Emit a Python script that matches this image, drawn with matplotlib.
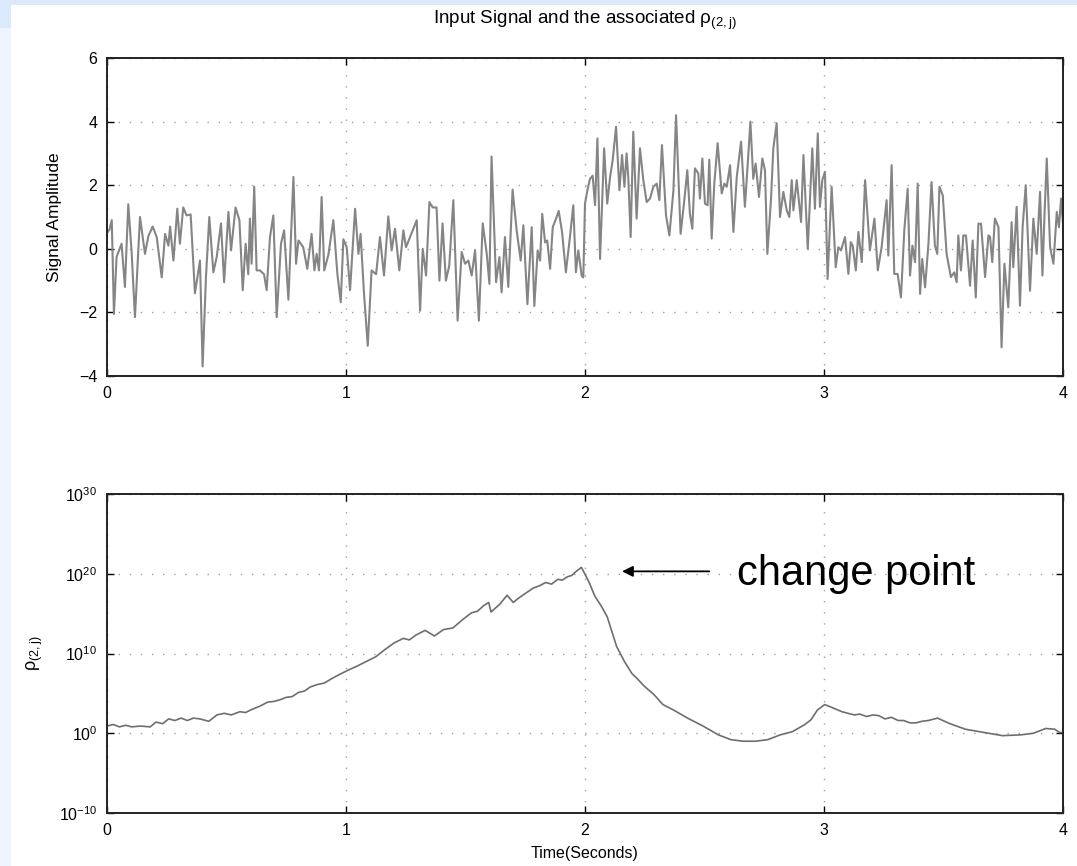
import matplotlib.pyplot as plt
import numpy as np
from matplotlib.patches import Rectangle
from matplotlib.ticker import FixedLocator, NullLocator

plt.rcParams['font.family'] = ['Liberation Sans', 'DejaVu Sans']
plt.rcParams['mathtext.fontset'] = 'custom'
plt.rcParams['mathtext.rm'] = 'Liberation Sans'
plt.rcParams['mathtext.it'] = 'Liberation Sans:italic'

# input signal, time in seconds and amplitude
sig_t = [0.000, 0.010, 0.020, 0.029, 0.040, 0.061, 0.075, 0.089, 0.103, 0.117,
         0.138, 0.159, 0.173, 0.191, 0.208, 0.229, 0.243, 0.257, 0.264, 0.278,
         0.294, 0.305, 0.319, 0.333, 0.350, 0.368, 0.389, 0.400, 0.414, 0.428,
         0.445, 0.459, 0.477, 0.490, 0.508, 0.519, 0.538, 0.554, 0.568, 0.580,
         0.591, 0.598, 0.605, 0.616, 0.626, 0.640, 0.657, 0.668, 0.682, 0.696,
         0.710, 0.728, 0.741, 0.759, 0.780, 0.791, 0.801, 0.821, 0.838, 0.856,
         0.868, 0.877, 0.887, 0.898, 0.909, 0.926, 0.947, 0.964, 0.978, 0.989,
         1.003, 1.017, 1.038, 1.052, 1.061, 1.075, 1.091, 1.107, 1.126, 1.142,
         1.159, 1.177, 1.191, 1.205, 1.223, 1.240, 1.251, 1.268, 1.296, 1.310,
         1.321, 1.335, 1.349, 1.363, 1.379, 1.391, 1.404, 1.418, 1.432, 1.449,
         1.467, 1.484, 1.498, 1.512, 1.526, 1.540, 1.556, 1.572, 1.589, 1.600,
         1.609, 1.628, 1.642, 1.651, 1.665, 1.679, 1.697, 1.714, 1.731, 1.742,
         1.759, 1.777, 1.788, 1.802, 1.812, 1.821, 1.833, 1.842, 1.854, 1.865,
         1.879, 1.890, 1.904, 1.920, 1.937, 1.951, 1.962, 1.972, 1.986, 1.993,
         2.000, 2.010, 2.021, 2.032, 2.042, 2.052, 2.063, 2.080, 2.093, 2.105,
         2.116, 2.130, 2.144, 2.155, 2.165, 2.174, 2.181, 2.191, 2.202, 2.216,
         2.230, 2.244, 2.258, 2.272, 2.286, 2.300, 2.311, 2.322, 2.339, 2.353,
         2.370, 2.381, 2.400, 2.414, 2.428, 2.439, 2.449, 2.460, 2.474, 2.481,
         2.491, 2.502, 2.513, 2.520, 2.530, 2.541, 2.555, 2.572, 2.583, 2.593,
         2.607, 2.621, 2.635, 2.653, 2.669, 2.681, 2.692, 2.704, 2.714, 2.728,
         2.742, 2.753, 2.763, 2.778, 2.788, 2.802, 2.816, 2.830, 2.844, 2.855,
         2.865, 2.872, 2.886, 2.904, 2.914, 2.932, 2.951, 2.962, 2.974, 2.983,
         2.993, 3.004, 3.015, 3.032, 3.049, 3.060, 3.071, 3.088, 3.102, 3.112,
         3.120, 3.133, 3.144, 3.158, 3.172, 3.192, 3.211, 3.225, 3.241, 3.262,
         3.269, 3.283, 3.294, 3.308, 3.322, 3.336, 3.350, 3.360, 3.370, 3.381,
         3.392, 3.402, 3.411, 3.423, 3.437, 3.450, 3.464, 3.474, 3.483, 3.497,
         3.513, 3.531, 3.545, 3.555, 3.562, 3.573, 3.583, 3.594, 3.611, 3.622,
         3.635, 3.646, 3.657, 3.674, 3.688, 3.695, 3.704, 3.715, 3.730, 3.743,
         3.755, 3.771, 3.785, 3.792, 3.806, 3.820, 3.831, 3.844, 3.862, 3.876,
         3.890, 3.904, 3.914, 3.922, 3.932, 3.946, 3.960, 3.974, 3.983, 3.992,
         4.000]
sig_v = [0.50, 0.60, 0.90, -2.05, -0.26, 0.16, -1.20, 1.40, -0.10, -2.15,
         1.00, -0.16, 0.40, 0.70, 0.37, -0.90, 0.47, 0.10, 0.70, -0.37,
         1.26, 0.16, 1.30, 1.05, 1.08, -1.40, -0.37, -3.70, -0.90, 1.00,
         -0.74, -0.26, 0.80, -1.05, 1.16, -0.05, 1.30, 0.90, -1.30, 0.16,
         -0.80, 0.95, -0.47, 1.95, -0.68, -0.68, -0.80, -1.30, 0.37, 1.05,
         -2.15, 0.16, 0.58, -1.60, 2.26, -0.47, 0.26, 0.05, -0.63, 0.47,
         -0.68, -0.16, -0.68, 1.63, -0.68, -0.20, 0.90, -0.80, -1.68, 0.30,
         0.05, -1.30, 1.26, -0.16, 0.47, -1.37, -3.05, -0.68, -0.80, 0.37,
         -0.84, 1.02, -0.05, 0.63, -0.68, 0.58, 0.05, 0.37, 0.90, -1.95,
         0.00, -0.84, 1.47, 1.30, 1.30, -1.00, 0.80, -1.00, -0.53, 1.53,
         -2.26, -0.10, -0.47, -0.37, -0.84, -0.05, -2.26, 0.80, -0.16, -1.10,
         2.90, -1.05, -0.26, -1.37, 0.37, -1.20, 1.86, 0.58, -0.37, 0.74,
         -1.74, 0.68, -1.80, -0.05, -0.37, 1.10, 0.20, 0.26, -0.63, 0.68,
         0.95, 1.19, 0.53, -0.74, 0.37, 1.37, -0.74, -0.05, -0.84, -0.90,
         1.42, 1.84, 2.20, 2.30, 1.37, 3.47, -0.32, 3.16, 1.42, 2.26,
         2.80, 3.84, 1.84, 2.95, 1.95, 3.00, 2.26, 0.37, 3.68, 0.95,
         3.16, 2.16, 1.47, 1.58, 1.95, 2.05, 1.53, 3.26, 1.05, 0.42,
         1.84, 4.20, 0.47, 1.42, 2.47, 1.10, 0.63, 2.53, 2.37, 1.58,
         2.84, 1.42, 1.37, 2.80, 0.32, 2.05, 3.32, 1.74, 2.05, 1.95,
         2.63, 0.53, 2.26, 3.37, 1.32, 2.68, 4.00, 2.20, 2.68, 1.63,
         2.84, 2.47, -0.16, 1.53, 3.16, 3.95, 1.00, 1.79, 1.21, 1.00,
         2.16, 1.21, 2.16, 0.84, 2.95, 0.00, 3.16, 1.26, 3.63, 1.32,
         2.16, 2.42, -0.95, 1.95, -0.58, 0.05, -0.05, 0.37, -0.79, 0.21,
         0.10, -0.68, 0.53, -0.42, 2.16, -0.05, 0.95, -0.68, 0.05, 1.53,
         -0.21, 2.63, -0.79, -0.79, -1.53, 0.58, 1.89, -0.84, 0.10, -0.42,
         2.05, -1.42, -0.32, -1.21, 0.16, 2.10, 0.10, -0.16, 1.95, 1.68,
         -0.16, -0.89, -0.74, -1.05, 0.42, -0.68, 0.42, 0.42, -1.16, 0.26,
         -1.53, 0.79, 0.79, -0.89, 0.42, 0.37, -0.42, 0.95, 0.68, -3.10,
         -0.47, -1.84, 0.84, -0.58, 1.32, -1.79, 0.68, 2.00, -1.32, 0.95,
         -0.16, 1.79, -0.84, 0.95, 2.84, 0.05, -0.47, 1.16, 0.68, 1.58,
         0.79]

# rho_(2,j): time and log10 of the value
rho_t = [0.000, 0.026, 0.052, 0.078, 0.103, 0.140, 0.181, 0.205, 0.233, 0.258,
         0.284, 0.310, 0.336, 0.362, 0.388, 0.426, 0.460, 0.491, 0.520, 0.556,
         0.580, 0.607, 0.640, 0.672, 0.700, 0.724, 0.750, 0.775, 0.800, 0.827,
         0.850, 0.879, 0.910, 0.943, 0.975, 1.008, 1.045, 1.085, 1.125, 1.163,
         1.200, 1.240, 1.265, 1.292, 1.331, 1.370, 1.408, 1.447, 1.490, 1.525,
         1.550, 1.576, 1.597, 1.607, 1.625, 1.641, 1.674, 1.700, 1.720, 1.744,
         1.783, 1.810, 1.835, 1.860, 1.886, 1.905, 1.925, 1.945, 1.959, 1.985,
         2.016, 2.041, 2.067, 2.093, 2.132, 2.165, 2.196, 2.220, 2.248, 2.287,
         2.326, 2.377, 2.429, 2.494, 2.558, 2.610, 2.661, 2.713, 2.765, 2.817,
         2.868, 2.920, 2.946, 2.972, 3.003, 3.036, 3.075, 3.100, 3.127, 3.150,
         3.178, 3.205, 3.230, 3.255, 3.282, 3.310, 3.333, 3.360, 3.385, 3.410,
         3.437, 3.475, 3.527, 3.592, 3.669, 3.747, 3.824, 3.876, 3.928, 3.966,
         3.985, 4.000]
rho_log = [0.9, 1.1, 0.8, 1.0, 0.8, 0.9, 0.8, 1.4, 1.2, 1.8,
           1.6, 1.9, 1.6, 1.9, 1.8, 1.5, 2.3, 2.5, 2.3, 2.7,
           2.6, 3.0, 3.4, 3.9, 4.0, 4.2, 4.5, 4.6, 5.1, 5.3,
           5.8, 6.1, 6.3, 6.9, 7.4, 7.9, 8.4, 9.0, 9.6, 10.5,
           11.3, 11.9, 11.7, 12.3, 12.9, 12.2, 13.0, 13.2, 14.3, 15.1,
           15.3, 16.0, 16.4, 15.2, 15.7, 16.1, 17.3, 16.4, 16.9, 17.4,
           18.2, 18.5, 18.9, 18.7, 19.3, 19.2, 19.6, 19.8, 20.2, 20.8,
           19.0, 17.2, 16.0, 14.6, 10.9, 9.0, 7.5, 6.8, 5.9, 4.9,
           3.6, 2.8, 1.9, 0.9, -0.2, -0.8, -1.0, -1.0, -0.8, -0.2,
           0.2, 1.1, 1.7, 2.9, 3.6, 3.2, 2.7, 2.5, 2.3, 2.4,
           2.1, 2.3, 2.2, 1.8, 2.0, 1.6, 1.6, 1.3, 1.3, 1.5,
           1.6, 1.9, 1.2, 0.5, 0.1, -0.3, -0.2, 0.0, 0.6, 0.5,
           0.1, 0.1]

x_ticks = [0, 1, 2, 3, 4]
amp_ticks = [-4, -2, 0, 2, 4, 6]
rho_exp_ticks = [-10, 0, 10, 20, 30]

fig = plt.figure(figsize=(10.77, 8.66), dpi=100)
fig.patch.set_facecolor('#eef5fe')
W, H = 1077.0, 866.0
fig.patches.append(Rectangle((11 / W, 0), 1 - 11 / W, 1 - 5 / H, transform=fig.transFigure,
                             facecolor='white', edgecolor='none', zorder=-10))
fig.patches.append(Rectangle((0, 1 - 5 / H), 1, 5 / H, transform=fig.transFigure,
                             facecolor='#dbe9fc', edgecolor='none', zorder=-10))
fig.patches.append(Rectangle((0, 1 - 28 / H), 11 / W, 28 / H, transform=fig.transFigure,
                             facecolor='#dbe9fc', edgecolor='none', zorder=-10))

ax1 = fig.add_axes([107 / W, 1 - 376 / H, 956 / W, 318 / H])
ax2 = fig.add_axes([107 / W, 1 - 813 / H, 956 / W, 319 / H])

ax1.plot(sig_t, sig_v, color='#858585', lw=1.5)
ax1.set_xlim(0, 4)
ax1.set_ylim(-4, 6)
ax1.set_yticks(amp_ticks)
ax1.set_yticklabels(['\u22124', '\u22122', '0', '2', '4', '6'])
ax1.set_ylabel('Signal Amplitude', fontsize=12.5, labelpad=12)
fig.text(585 / W, 1 - 20 / H, r'Input Signal and the associated $\mathrm{\rho_{(2,j)}}$',
         fontsize=13.5, ha='center', va='center')

ax2.plot(rho_t, 10.0 ** np.array(rho_log), color='#6e6e6e', lw=1.2)
ax2.set_yscale('log')
ax2.set_xlim(0, 4)
ax2.set_ylim(1e-10, 1e30)
ax2.yaxis.set_major_locator(FixedLocator([10.0 ** e for e in rho_exp_ticks]))
ax2.yaxis.set_minor_locator(NullLocator())
ax2.set_yticklabels([r'$10^{%d}$' % e for e in rho_exp_ticks])
ax2.set_ylabel(r'$\mathrm{\rho_{(2,j)}}$', fontsize=13, labelpad=10)
ax2.set_xlabel('Time(Seconds)', fontsize=11.5, labelpad=6)

for ax in (ax1, ax2):
    ax.set_xticks(x_ticks)
    ax.grid(True, linestyle=(0, (1, 7)), color='#a0a0a0', lw=1.0)
    ax.tick_params(direction='in', length=5, width=1, top=True, right=True,
                   labelsize=11.5, pad=7)
    for s in ax.spines.values():
        s.set_linewidth(1.4)
        s.set_color('#222222')

# mark the change point in the rho curve
ax2.annotate('', xy=(2.155, 10 ** 20.3), xytext=(2.52, 10 ** 20.3),
             arrowprops=dict(arrowstyle='-|>', color='black', lw=1.3,
                             mutation_scale=16, shrinkA=0, shrinkB=0))
ax2.text(2.636, 10 ** 20.0, 'change point', fontsize=30, va='center', ha='left')

fig.savefig('out.png', dpi=100, facecolor=fig.get_facecolor())
